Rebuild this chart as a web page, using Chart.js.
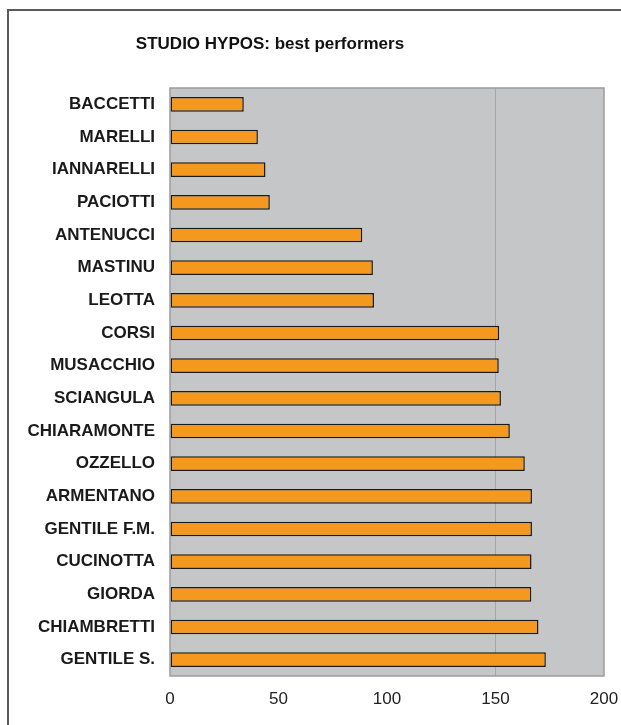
<!DOCTYPE html>
<html>
<head>
<meta charset="utf-8">
<script src="https://cdn.jsdelivr.net/npm/chart.js@4.4.1/dist/chart.umd.min.js"></script>
<style>
  html, body { margin: 0; padding: 0; background: #ffffff; overflow: hidden; }
  #wrap { position: relative; width: 621px; height: 725px; }
  #frame { position: absolute; left: 7px; top: 9px; width: 640px; height: 760px; border: 2px solid #5a5a5a; box-sizing: border-box; }
  canvas { position: absolute; left: 0; top: 0; }
</style>
</head>
<body>
<div id="wrap">
  <div id="frame"></div>
  <canvas id="c" width="621" height="725"></canvas>
</div>
<script>
const titleText = 'STUDIO HYPOS: best performers';
const categories = ['BACCETTI','MARELLI','IANNARELLI','PACIOTTI','ANTENUCCI','MASTINU','LEOTTA','CORSI','MUSACCHIO','SCIANGULA','CHIARAMONTE','OZZELLO','ARMENTANO','GENTILE F.M.','CUCINOTTA','GIORDA','CHIAMBRETTI','GENTILE S.'];
const values = [34, 40.5, 44, 46, 88.6, 93.5, 94, 151.7, 151.5, 152.5, 156.6, 163.5, 166.8, 166.8, 166.6, 166.5, 169.8, 173.2];
const xTicks = [0, 50, 100, 150, 200];

const plotBg = {
  id: 'plotBg',
  beforeDraw(chart) {
    const { ctx, chartArea: a } = chart;
    ctx.save();
    ctx.fillStyle = '#c5c6c7';
    ctx.fillRect(a.left, a.top, a.right - a.left, a.bottom - a.top);
    ctx.restore();
  },
  afterDatasetsDraw(chart) {
    const { ctx, chartArea: a } = chart;
    ctx.save();
    ctx.strokeStyle = '#9c9c9c';
    ctx.lineWidth = 1.5;
    ctx.strokeRect(a.left, a.top, a.right - a.left, a.bottom - a.top);
    ctx.restore();
  }
};

const titlePlugin = {
  id: 'titleText',
  afterDraw(chart) {
    const { ctx } = chart;
    ctx.save();
    ctx.font = 'bold 17px "Liberation Sans", Arial, sans-serif';
    ctx.fillStyle = '#111';
    ctx.textAlign = 'center';
    ctx.textBaseline = 'middle';
    ctx.fillText(titleText, 270, 44);
    ctx.restore();
  }
};

new Chart(document.getElementById('c'), {
  type: 'bar',
  data: {
    labels: categories,
    datasets: [{
      data: values,
      backgroundColor: '#f5991e',
      borderColor: '#1a1a1a',
      borderWidth: 1.5,
      borderSkipped: false,
      barPercentage: 0.45,
      categoryPercentage: 1.0
    }]
  },
  options: {
    indexAxis: 'y',
    responsive: false,
    animation: false,
    devicePixelRatio: 1,
    layout: { padding: { top: 88, right: 17, left: 0, bottom: 0 } },
    plugins: { legend: { display: false }, tooltip: { enabled: false }, title: { display: false } },
    scales: {
      x: {
        min: 0, max: 200,
        afterBuildTicks(scale) { scale.ticks = xTicks.map(v => ({ value: v })); },
        afterFit(scale) { scale.height = 49; scale.paddingRight = 0; scale.paddingLeft = 0; },
        grid: {
          drawTicks: false,
          color: ctx => (ctx.tick && ctx.tick.value === 150) ? '#a6a6a6' : 'rgba(0,0,0,0)',
          lineWidth: 1
        },
        border: { display: false },
        ticks: {
          padding: 13,
          color: '#222',
          font: { family: '"Liberation Sans", Arial, sans-serif', size: 17 }
        }
      },
      y: {
        afterFit(scale) { scale.width = 170; },
        grid: { display: false, drawTicks: false },
        border: { display: false },
        ticks: {
          padding: 15,
          color: '#1a1a1a',
          autoSkip: false,
          font: { family: '"Liberation Sans", Arial, sans-serif', size: 17, weight: 'bold' }
        }
      }
    }
  },
  plugins: [plotBg, titlePlugin]
});
</script>
</body>
</html>
